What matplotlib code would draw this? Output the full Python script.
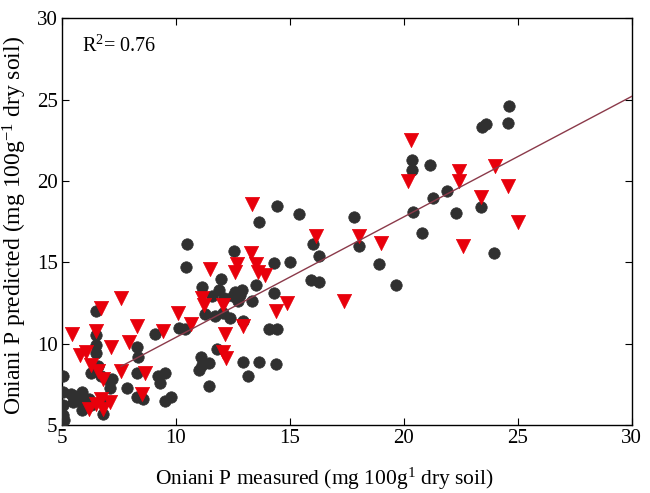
import matplotlib
matplotlib.use("Agg")
import matplotlib.pyplot as plt
import numpy as np

# Black circles (calibration set)
cal_x = [24.6, 24.55, 23.45, 23.6, 20.35, 20.35, 21.15, 21.9, 21.3, 20.4, 22.3, 23.4, 20.8, 23.95,
         17.8, 18.05, 18.9, 19.65, 16.0, 16.3, 15.95, 16.3, 15.0, 15.4, 14.45, 13.65, 12.55, 10.5,
         10.45, 14.3, 14.3, 13.5, 13.35, 14.1, 14.45, 13.65, 14.4, 12.95, 13.15, 12.95, 12.6, 12.75,
         12.5, 12.9, 12.8, 12.0, 11.9, 12.1, 11.6, 11.3, 11.7, 12.05, 12.4, 11.8, 11.15, 11.1, 11.15,
         11.0, 11.45, 11.45, 10.4, 10.15, 9.55, 9.8, 9.2, 9.3, 9.1, 9.55, 8.3, 8.3, 8.3, 7.85, 8.55,
         8.35, 5.05, 5.05, 5.05, 5.05, 5.1, 5.4, 5.5, 5.6, 5.8, 6.0, 6.2, 5.9, 6.5, 6.5, 6.5, 6.5,
         6.7, 7.0, 7.1, 6.9, 6.8, 6.3, 7.2, 6.6, 6.3, 5.9]
cal_y = [24.6, 23.55, 23.3, 23.5, 21.3, 20.7, 21.0, 19.4, 18.95, 18.1, 18.0, 18.4, 16.8, 15.6,
         17.8, 16.0, 14.9, 13.6, 16.1, 15.4, 13.9, 13.8, 15.0, 17.95, 18.45, 17.5, 15.7, 16.1,
         14.7, 14.95, 13.1, 13.6, 12.6, 10.9, 10.9, 8.9, 8.75, 8.9, 8.0, 11.4, 13.2, 12.6,
         12.9, 13.3, 13.0, 14.0, 13.3, 12.8, 12.9, 11.8, 11.7, 11.9, 11.6, 9.7, 13.5, 9.2, 8.7,
         8.4, 8.8, 7.4, 10.9, 10.95, 6.5, 6.7, 8.0, 7.6, 10.6, 8.2, 9.8, 8.2, 6.7, 7.3, 6.6,
         9.2, 8.0, 7.0, 5.6, 6.2, 5.3, 6.9, 6.4, 6.8, 6.5, 6.2, 6.6, 5.9, 10.5, 12.0, 9.9, 9.4,
         8.0, 7.8, 7.3, 6.5, 5.7, 6.2, 7.8, 8.6, 8.2, 7.0]

# Red triangles (validation set)
val_x = [20.3, 20.2, 22.4, 22.4, 24.0, 24.55, 23.4, 25.0, 22.6, 19.0, 18.05, 16.15, 17.4, 14.9,
         14.4, 13.35, 13.3, 13.5, 13.6, 13.9, 12.7, 12.6, 11.5, 11.15, 11.25, 10.65, 10.1, 12.05,
         12.15, 12.05, 12.2, 12.95, 9.45, 8.3, 7.95, 8.65, 8.5, 7.6, 7.6, 7.15, 6.7, 6.5, 5.45,
         5.8, 6.05, 6.6, 6.8, 6.3, 6.5, 6.8, 7.1, 6.2, 6.7]
val_y = [22.5, 20.0, 20.6, 20.0, 20.9, 19.7, 19.0, 17.5, 16.0, 16.2, 16.6, 16.6, 12.6, 12.5,
         12.0, 18.6, 15.6, 14.9, 14.4, 14.2, 14.9, 14.4, 14.6, 12.8, 12.4, 11.2, 11.9, 12.4,
         10.6, 9.5, 9.1, 11.1, 10.8, 11.1, 10.1, 8.2, 6.9, 8.3, 12.8, 9.8, 12.2, 10.8, 10.6,
         9.3, 9.5, 8.3, 7.8, 8.7, 6.3, 6.0, 6.4, 6.0, 6.6]

fit_intercept = 2.97
fit_slope = 0.741
fit_range = [7.6, 30]

ticks = [5, 10, 15, 20, 25, 30]
xlabel = "Oniani P measured (mg 100g$^{1}$ dry soil)"
ylabel = "Oniani P predicted (mg 100g$^{-1}$ dry soil)"
r2_text = "R$^{2}$= 0.76"

plt.rcParams['font.family'] = ['Liberation Serif', 'DejaVu Serif']
plt.rcParams['mathtext.fontset'] = 'custom'
plt.rcParams['mathtext.rm'] = 'Liberation Serif'
plt.rcParams['mathtext.it'] = 'Liberation Serif'

fig = plt.figure(figsize=(6.5, 4.93), dpi=100)
ax = fig.add_axes([0.095, 0.138, 0.877, 0.825])

ax.scatter(cal_x, cal_y, s=68, marker='o', color='#303030', edgecolors='#303030', linewidths=0.5, zorder=3)
ax.scatter(val_x, val_y, s=105, marker='v', color='#e8000b', edgecolors='#e8000b', linewidths=0.5, zorder=4)

fx = np.array(fit_range)
ax.plot(fx, fit_intercept + fit_slope * fx, color='#8b3a4a', lw=1.0, zorder=5)

ax.set_xlim(5, 30)
ax.set_ylim(5, 30)
ax.set_xticks(ticks)
ax.set_yticks(ticks)
ax.tick_params(direction='in', top=True, right=True, length=5, width=0.8, labelsize=15, pad=3)
for s in ax.spines.values():
    s.set_linewidth(1.0)

ax.set_xlabel(xlabel, fontsize=15.5)
ax.set_ylabel(ylabel, fontsize=17)
ax.xaxis.set_label_coords(0.46, -0.1)
ax.yaxis.set_label_coords(-0.058, 0.49)
ax.text(5.9, 28.3, r2_text, fontsize=14.5, va='center', ha='left')

fig.savefig("out.png", dpi=100)
